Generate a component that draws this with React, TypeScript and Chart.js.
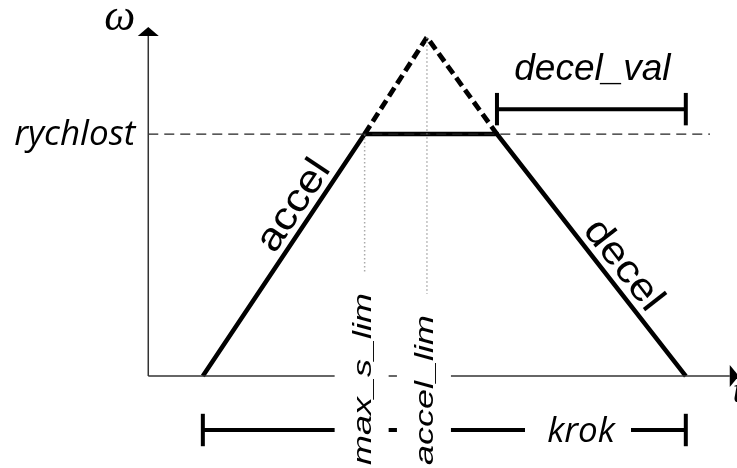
import { useEffect, useRef } from "react";
import { Chart, registerables } from "chart.js";
Chart.register(...registerables);

// ---- data (t = time units, w = omega units; rychlost = 1) ----
const profileT = [0, 3.35, 6.09, 10]; // accel start, max_s_lim, decel start, end of krok
const profileW = [0, 1, 1, 0];
const peakT = [3.35, 4.64, 6.09]; // unreached triangle (dashed)
const peakW = [1, 1.4, 1];
const limitNames = ["max_s_lim", "accel_lim"];
const limitT = [3.35, 4.64];
const limitTopW = [1, 1.4];
const rychlostW = 1;
const rychlostEndT = 10.5;
const decelValT = [6.09, 10];
const decelValW = 1.103;
const krokT = [0, 10];
const krokW = -0.223;
const bracketTick = 0.067;
const axisOriginT = -1.13;
const axisTopW = 1.405;
const axisTipW = 1.442;
const axisRightT = 10.91;
const axisRightTipT = 11.1;
const krokLabelT = 7.83;
const xRange = [-4.2, 11.06];
const yRange = [-0.38, 1.554];

const pts = (ts: number[], ws: number[]) => ts.map((t, i) => ({ x: t, y: ws[i] }));

export default function App() {
  const ref = useRef<HTMLCanvasElement | null>(null);
  useEffect(() => {
    if (!ref.current) return;
    const line = (data: any[], extra: any = {}) => ({
      data,
      showLine: true,
      borderColor: "#000",
      borderWidth: 4.5,
      pointRadius: 0,
      fill: false,
      tension: 0,
      borderJoinStyle: "miter",
      ...extra,
    });
    const thin = { borderColor: "#333", borderWidth: 1.5 };
    const datasets: any[] = [
      line([{ x: axisOriginT, y: 0 }, { x: axisOriginT, y: axisTopW }], thin),
      line([{ x: axisOriginT, y: 0 }, { x: axisRightT, y: 0 }], thin),
      line([{ x: axisOriginT, y: rychlostW }, { x: rychlostEndT, y: rychlostW }], {
        borderColor: "#222",
        borderWidth: 1.2,
        borderDash: [10, 6],
      }),
      ...limitT.map((t, i) =>
        line([{ x: t, y: limitTopW[i] }, { x: t, y: 0 }], {
          borderColor: "#aaa",
          borderWidth: 1.5,
          borderDash: [1.5, 2.5],
        })
      ),
      line(pts(peakT, peakW), { borderDash: [10, 5], borderWidth: 4.8 }),
      line(pts(profileT, profileW)),
      line([{ x: decelValT[0], y: decelValW }, { x: decelValT[1], y: decelValW }], { borderWidth: 4 }),
      ...decelValT.map((t) =>
        line([{ x: t, y: decelValW - bracketTick }, { x: t, y: decelValW + bracketTick }], { borderWidth: 4 })
      ),
      line([{ x: krokT[0], y: krokW }, { x: krokT[1], y: krokW }], { borderWidth: 4 }),
      ...krokT.map((t) =>
        line([{ x: t, y: krokW - bracketTick }, { x: t, y: krokW + bracketTick }], { borderWidth: 4 })
      ),
    ];

    const annot = {
      id: "annot",
      afterDatasetsDraw(chart: any) {
        const ctx: CanvasRenderingContext2D = chart.ctx;
        const px = (t: number) => chart.scales.x.getPixelForValue(t);
        const py = (w: number) => chart.scales.y.getPixelForValue(w);
        ctx.save();
        ctx.fillStyle = "#000";

        // arrows
        const ax = px(axisOriginT);
        ctx.beginPath();
        ctx.moveTo(ax, py(axisTipW));
        ctx.lineTo(ax - 10.5, py(axisTopW));
        ctx.lineTo(ax + 10.5, py(axisTopW));
        ctx.closePath();
        ctx.fill();
        const ay = py(0);
        ctx.beginPath();
        ctx.moveTo(px(axisRightTipT), ay);
        ctx.lineTo(px(axisRightT), ay - 11);
        ctx.lineTo(px(axisRightT), ay + 11);
        ctx.closePath();
        ctx.fill();

        // krok label with white box
        ctx.font = 'italic 35px "Open Sans"';
        const kx = px(krokLabelT);
        const ky = py(krokW);
        ctx.fillStyle = "#fff";
        ctx.fillRect(kx - 56, ky - 20, 106, 40);
        ctx.fillStyle = "#000";
        ctx.textAlign = "center";
        ctx.textBaseline = "alphabetic";
        ctx.fillText("krok", kx, ky + 12);

        // vertical limit labels with white boxes
        limitT.forEach((t, i) => {
          const x = px(t);
          const bottom = 465;
          ctx.font = 'italic 36px "Liberation Sans"';
          const w = ctx.measureText(limitNames[i]).width;
          const top = bottom - w - 21;
          ctx.fillStyle = "#fff";
          ctx.fillRect(x - 30, top, 54, 480 - top);
          ctx.save();
          ctx.translate(x + 6, bottom);
          ctx.rotate(-Math.PI / 2);
          ctx.scale(1, 0.74);
          ctx.fillStyle = "#000";
          ctx.textAlign = "left";
          ctx.textBaseline = "alphabetic";
          ctx.fillText(limitNames[i], 0, 0);
          ctx.restore();
        });

        // slope labels
        const slope = (text: string, t0: number, w0: number, t1: number, w1: number, frac: number) => {
          const x0 = px(t0), y0 = py(w0), x1 = px(t1), y1 = py(w1);
          const ang = Math.atan2(y1 - y0, x1 - x0);
          ctx.save();
          ctx.translate(x0 + (x1 - x0) * frac, y0 + (y1 - y0) * frac);
          ctx.rotate(ang);
          ctx.translate(0, -8);
          ctx.scale(1, 0.88);
          ctx.font = '44px "Liberation Sans"';
          ctx.fillStyle = "#000";
          ctx.textAlign = "center";
          ctx.textBaseline = "alphabetic";
          ctx.fillText(text, 0, 0);
          ctx.restore();
        };
        slope("accel", profileT[0], profileW[0], profileT[1], profileW[1], 0.66);
        slope("decel", profileT[2], profileW[2], profileT[3], profileW[3], 0.59);

        // other labels
        ctx.fillStyle = "#000";
        ctx.textBaseline = "alphabetic";
        ctx.font = 'italic 35px "Open Sans"';
        ctx.textAlign = "right";
        ctx.fillText("rychlost", ax - 13, py(rychlostW) + 11);

        ctx.font = 'italic 37px "Liberation Sans"';
        ctx.textAlign = "center";
        ctx.fillText("decel_val", (px(decelValT[0]) + px(decelValT[1])) / 2 + 1, py(decelValW) - 29);

        ctx.font = 'italic 44px "Liberation Serif"';
        ctx.textAlign = "right";
        ctx.fillText("ω", ax - 13, 30);

        ctx.font = 'italic 36px "Liberation Serif"';
        ctx.textAlign = "left";
        ctx.fillText("t", px(axisRightT) + 3, ay + 26);
        ctx.restore();
      },
    };

    const chart = new Chart(ref.current, {
      type: "scatter",
      data: { datasets },
      options: {
        animation: false,
        responsive: true,
        maintainAspectRatio: false,
        events: [],
        layout: { padding: 0 },
        plugins: { legend: { display: false }, tooltip: { enabled: false } },
        scales: {
          x: { type: "linear", min: xRange[0], max: xRange[1], display: false },
          y: { type: "linear", min: yRange[0], max: yRange[1], display: false },
        },
      },
      plugins: [annot],
    });
    return () => chart.destroy();
  }, []);

  return (
    <div style={{ position: "fixed", left: 0, top: 0, width: 737, height: 468, background: "#fff" }}>
      <canvas ref={ref} />
    </div>
  );
}
